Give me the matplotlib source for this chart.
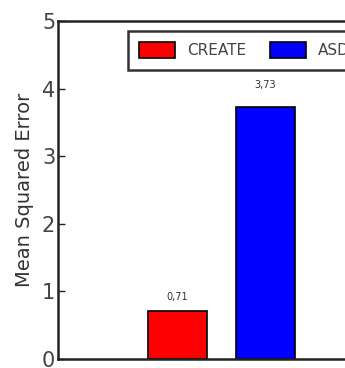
import matplotlib
matplotlib.use('Agg')
import matplotlib.pyplot as plt

methods = ['CREATE', 'ASD']
mse = [0.71, 3.73]
labels = ['0,71', '3,73']
colors = ['red', 'blue']

fig = plt.figure(figsize=(3.45, 3.68), dpi=100)
# axes run off the right edge, as in the cropped original
ax = fig.add_axes([58 / 345, 9 / 368, 355 / 345, 338 / 368])

pos = [0, 1.5]
for p, v, c, m, t in zip(pos, mse, colors, methods, labels):
    ax.bar(p, v, width=1.0, color=c, edgecolor='black', linewidth=1.2, label=m)
    ax.text(p, v * 1.04 + 0.1, t, ha='center', va='bottom', fontsize=7,
            color='#333333')

ax.set_xlim(-2.02, 4)
ax.set_ylim(0, 5)
ax.set_yticks([0, 1, 2, 3, 4, 5])
ax.set_xticks([])
ax.tick_params(axis='y', direction='in', length=5, width=1, labelsize=15, pad=2,
               colors='#222222', labelcolor='#444444')
ax.set_ylabel('Mean Squared Error', fontsize=14, color='#333333', labelpad=6)
for s in ax.spines.values():
    s.set_linewidth(1.8)
    s.set_color('#222222')

leg = ax.legend(loc='upper left', bbox_to_anchor=(70 / 355, 1 - 10 / 338), ncol=2,
                borderaxespad=0, prop={'size': 11},
                fancybox=False, frameon=True, borderpad=0.75, handlelength=2.3,
                handleheight=1.15, columnspacing=1.6, handletextpad=0.8)
leg.get_frame().set_edgecolor('black')
leg.get_frame().set_linewidth(1.8)
for txt in leg.get_texts():
    txt.set_color('#444444')

fig.savefig('out.png', dpi=100)
